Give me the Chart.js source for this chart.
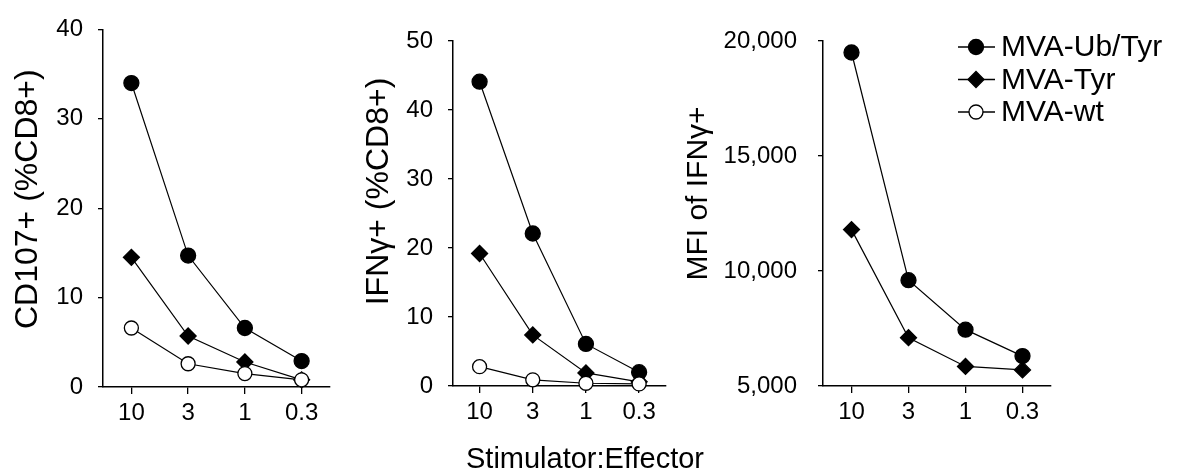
<!DOCTYPE html>
<html>
<head>
<meta charset="utf-8">
<script src="https://cdn.jsdelivr.net/npm/chart.js@4.4.1/dist/chart.umd.min.js"></script>
<style>
  body{margin:0;background:#fff;}
  #wrap{position:relative;width:1180px;height:475px;overflow:hidden;font-family:"Liberation Sans",Arial,sans-serif;}
  canvas{position:absolute;top:0;}
  #xtitle{position:absolute;left:385px;width:400px;top:444px;text-align:center;font-size:29px;line-height:29px;color:#000;}
</style>
</head>
<body>
<div id="wrap">
  <canvas id="c1" width="345" height="475" style="left:0px"></canvas>
  <canvas id="c2" width="330" height="475" style="left:345px"></canvas>
  <canvas id="c3" width="510" height="475" style="left:670px"></canvas>
  <div id="xtitle">Stimulator:Effector</div>
</div>
<script>
// stimulator:effector ratios on the x axis
const ratios = ['10', '3', '1', '0.3'];
const seriesNames = ['MVA-Ub/Tyr', 'MVA-Tyr', 'MVA-wt'];

// CD107+ (%CD8+)
const cd107UbTyr = [34.0, 14.7, 6.6, 2.9];
const cd107Tyr   = [14.5, 5.7, 2.8, 0.8];
const cd107Wt    = [6.6, 2.6, 1.5, 0.8];

// IFNg+ (%CD8+)
const ifnUbTyr = [44.1, 22.1, 6.1, 2.0];
const ifnTyr   = [19.2, 7.4, 1.9, 0.6];
const ifnWt    = [2.8, 0.9, 0.4, 0.3];

// MFI of IFNg+
const mfiUbTyr = [19500, 9600, 7450, 6300];
const mfiTyr   = [11800, 7100, 5850, 5700];

const FONT = '"Liberation Sans", Arial, sans-serif';
Chart.defaults.font.family = FONT;
Chart.defaults.color = '#000';

const styles = [
  {pointStyle: 'circle',  pointRadius: 7.5, pointBackgroundColor: '#000'},
  {pointStyle: 'rectRot', pointRadius: 8,   pointBackgroundColor: '#000'},
  {pointStyle: 'circle',  pointRadius: 7,   pointBackgroundColor: '#fff'}
];
const drawOrder = [2, 1, 0]; // open circles end up on top

function ds(i, data){
  return Object.assign({
    label: seriesNames[i], data,
    borderColor: '#000', borderWidth: 1.2,
    pointBorderColor: '#000', pointBorderWidth: 1.3,
    pointHoverRadius: styles[i].pointRadius,
    order: drawOrder[i], clip: false
  }, styles[i]);
}

function makeOptions(o){
  return {
    responsive: false, animation: false,
    layout: {padding: {top: o.top, right: o.right, left: 0, bottom: 0}},
    plugins: {legend: {display: false}, tooltip: {enabled: false}, titleShift: {dy: o.titleShift}},
    scales: {
      x: {
        type: 'category', offset: true,
        grid: {drawOnChartArea: false, tickLength: 7, color: '#000', lineWidth: 1.3},
        border: {color: '#000', width: 1.5},
        ticks: {font: {size: 24}, padding: 5, maxRotation: 0},
        afterFit: s => { s.height = o.xh; }
      },
      y: {
        min: o.min, max: o.max,
        grid: {drawOnChartArea: false, tickLength: 5, color: '#000', lineWidth: 1.3},
        border: {color: '#000', width: 1.5},
        ticks: {stepSize: o.step, font: {size: 24}, padding: o.tickPad,
                callback: v => v.toLocaleString('en-US')},
        title: {display: true, text: o.title, font: {size: o.titleSize}, padding: {top: o.titlePad, bottom: 0}},
        afterFit: s => { s.width = o.yw; }
      }
    }
  };
}

// the y titles sit a little above the middle of the axis in the figure
const titleShift = {
  id: 'titleShift',
  afterLayout(chart, args, opts){
    const s = chart.scales.y;
    if(s._shifted) return;
    const orig = s.drawTitle.bind(s);
    s.drawTitle = function(){
      this.ctx.save();
      this.ctx.translate(0, opts.dy || 0);
      orig();
      this.ctx.restore();
    };
    s._shifted = true;
  }
};
Chart.register(titleShift);

const sideLegend = {
  id: 'sideLegend',
  afterDraw(chart){
    const ctx = chart.ctx;
    ctx.save();
    ctx.font = '30px ' + FONT;
    ctx.textBaseline = 'middle';
    ctx.lineWidth = 1.3;
    ctx.strokeStyle = '#000';
    seriesNames.forEach((name, i) => {
      const y = 47 + i * 32.5, mx = 306, r = styles[i].pointRadius;
      ctx.beginPath(); ctx.moveTo(288, y); ctx.lineTo(325, y); ctx.stroke();
      ctx.beginPath();
      if(styles[i].pointStyle === 'circle') ctx.arc(mx, y, r, 0, Math.PI * 2);
      else { ctx.moveTo(mx - r, y); ctx.lineTo(mx, y - r); ctx.lineTo(mx + r, y); ctx.lineTo(mx, y + r); ctx.closePath(); }
      ctx.fillStyle = styles[i].pointBackgroundColor;
      ctx.fill(); ctx.stroke();
      ctx.fillStyle = '#000';
      ctx.fillText(name, 331, y + 1);
    });
    ctx.restore();
  }
};

new Chart(document.getElementById('c1'), {
  type: 'line',
  data: {labels: ratios, datasets: [ds(0, cd107UbTyr), ds(1, cd107Tyr), ds(2, cd107Wt)]},
  options: makeOptions({top: 24, right: 15, xh: 88, yw: 103, min: 0, max: 40, step: 10,
    tickPad: 15, title: 'CD107+ (%CD8+)', titleSize: 32, titlePad: 9, titleShift: -9})
});

new Chart(document.getElementById('c2'), {
  type: 'line',
  data: {labels: ratios, datasets: [ds(0, ifnUbTyr), ds(1, ifnTyr), ds(2, ifnWt)]},
  options: makeOptions({top: 41, right: 2, xh: 89, yw: 108, min: 0, max: 50, step: 10,
    tickPad: 15, title: 'IFNγ+ (%CD8+)', titleSize: 32, titlePad: 15, titleShift: -22})
});

new Chart(document.getElementById('c3'), {
  type: 'line',
  data: {labels: ratios, datasets: [ds(0, mfiUbTyr), ds(1, mfiTyr)]},
  options: makeOptions({top: 41, right: 129, xh: 89, yw: 153, min: 5000, max: 20000, step: 5000,
    tickPad: 21, title: 'MFI of IFNγ+', titleSize: 30, titlePad: 11, titleShift: -20}),
  plugins: [sideLegend]
});
</script>
</body>
</html>
